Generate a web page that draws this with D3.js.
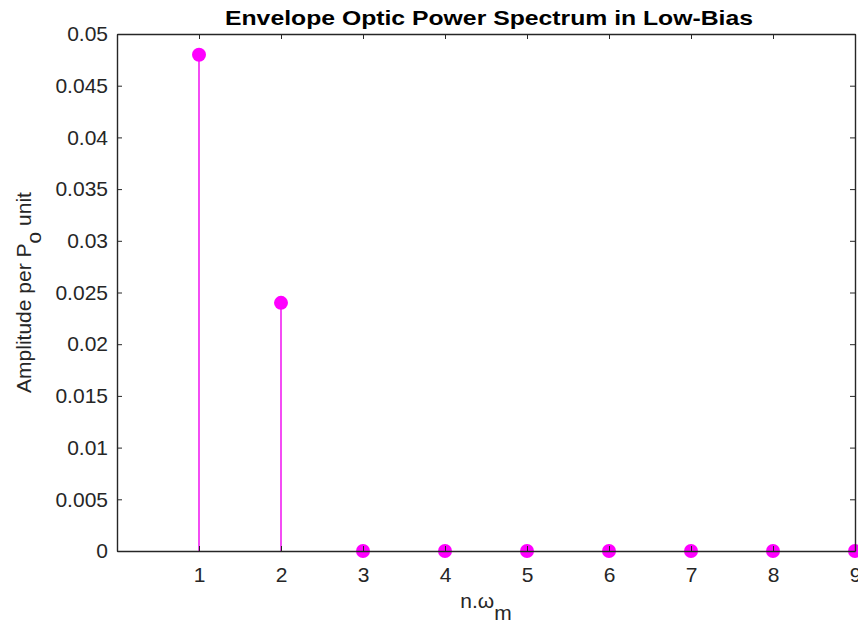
<!DOCTYPE html>
<html>
<head>
<meta charset="utf-8">
<script src="https://cdn.jsdelivr.net/npm/d3@7"></script>
<style>
  body { margin: 0; background: #fff; }
  text { font-family: "Liberation Sans", Arial, sans-serif; }
</style>
</head>
<body>
<div id="main"></div>
<script>
// harmonic index and amplitude per P0 unit
var harmonics = [1, 2, 3, 4, 5, 6, 7, 8, 9];
var amplitudes = [0.048, 0.024, 0, 0, 0, 0, 0, 0, 0];
var xTicks = [1, 2, 3, 4, 5, 6, 7, 8, 9];
var yTicks = [0, 0.005, 0.01, 0.015, 0.02, 0.025, 0.03, 0.035, 0.04, 0.045, 0.05];

var margin = {top: 34, right: 3, bottom: 72, left: 117},
    width = 858 - margin.left - margin.right,
    height = 623 - margin.top - margin.bottom;

var svg = d3.select("#main")
    .append("svg")
    .attr("width", 858)
    .attr("height", 623)
    .append("g")
    .attr("transform", "translate(" + margin.left + "," + margin.top + ")");

var xScale = d3.scaleLinear().domain([0, 9]).range([0, width]);
var yScale = d3.scaleLinear().domain([0, 0.05]).range([height, 0]);

var axisColor = "#262626";

// stems
svg.selectAll(".stem")
    .data(amplitudes)
    .enter()
    .append("line")
    .attr("class", "stem")
    .attr("x1", function(d, i) { return xScale(harmonics[i]); })
    .attr("x2", function(d, i) { return xScale(harmonics[i]); })
    .attr("y1", yScale(0))
    .attr("y2", function(d) { return yScale(d); })
    .attr("stroke", "#f000f0")
    .attr("stroke-width", 1.4);

// markers
svg.selectAll(".dot")
    .data(amplitudes)
    .enter()
    .append("circle")
    .attr("class", "dot")
    .attr("cx", function(d, i) { return xScale(harmonics[i]); })
    .attr("cy", function(d) { return yScale(d); })
    .attr("r", 7)
    .style("fill", "#ff00ff");

// box axes, ticks pointing inward (drawn over the markers)
var xAxis = d3.axisBottom(xScale).tickValues(xTicks).tickSizeInner(-5).tickSizeOuter(0).tickPadding(16);
var yAxis = d3.axisLeft(yScale).tickValues(yTicks).tickSizeInner(-5).tickSizeOuter(0).tickPadding(9)
    .tickFormat(function(d) { return d === 0 ? "0" : String(+d.toFixed(3)); });

var gx = svg.append("g")
    .attr("transform", "translate(0," + height + ")")
    .call(xAxis);
var gy = svg.append("g").call(yAxis);

var gxTop = svg.append("g").call(d3.axisTop(xScale).tickValues(xTicks).tickSizeInner(-5).tickSizeOuter(0).tickFormat(""));
var gyRight = svg.append("g")
    .attr("transform", "translate(" + width + ",0)")
    .call(d3.axisRight(yScale).tickValues(yTicks).tickSizeInner(-5).tickSizeOuter(0).tickFormat(""));

[gx, gy, gxTop, gyRight].forEach(function(g) {
  g.select(".domain").attr("stroke", axisColor).attr("stroke-width", 1.4);
  g.selectAll(".tick line").attr("stroke", axisColor);
  g.selectAll(".tick text")
    .attr("fill", axisColor)
    .style("font-size", "21px")
    .style("font-family", "Liberation Sans, Arial, sans-serif");
});

// title
svg.append("text")
    .attr("x", width / 2 + 3)
    .attr("y", -9)
    .style("text-anchor", "middle")
    .style("font-size", "21px")
    .style("font-weight", "bold")
    .attr("textLength", 528)
    .attr("lengthAdjust", "spacingAndGlyphs")
    .attr("fill", "#000")
    .text("Envelope Optic Power Spectrum in Low-Bias");

// x label
var xl = svg.append("text")
    .attr("x", width / 2)
    .attr("y", height + 57)
    .style("text-anchor", "middle")
    .style("font-size", "21px")
    .attr("fill", axisColor);
xl.append("tspan").text("n.\u03c9");
xl.append("tspan").attr("dy", 12).text("m");

// y label
var yl = svg.append("text")
    .attr("transform", "translate(-86," + (height / 2) + ") rotate(-90)")
    .style("text-anchor", "middle")
    .style("font-size", "21px")
    .attr("fill", axisColor);
yl.append("tspan").text("Amplitude per P");
yl.append("tspan").attr("dy", 10).text("o");
yl.append("tspan").attr("dy", -10).text(" unit");
</script>
</body>
</html>
